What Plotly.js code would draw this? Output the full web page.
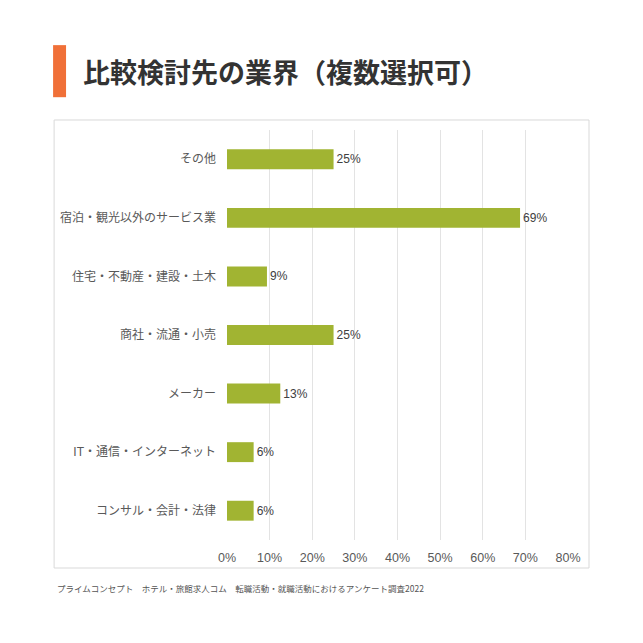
<!DOCTYPE html>
<html><head><meta charset="utf-8">
<script src="https://cdn.plot.ly/plotly-3.0.1.min.js"></script>
<style>html,body{margin:0;padding:0;background:#fff;}#chart{width:643px;height:643px;}</style>
</head><body><div id="chart"></div>
<script>
const categories = ["その他","宿泊・観光以外のサービス業","住宅・不動産・建設・土木","商社・流通・小売","メーカー","IT・通信・インターネット","コンサル・会計・法律"];
const values = [25, 68.75, 9.375, 25, 12.5, 6.25, 6.25];
const labels = ["25%","69%","9%","25%","13%","6%","6%"];
const xTickVals = [0,10,20,30,40,50,60,70,80];
const xTickText = ["0%","10%","20%","30%","40%","50%","60%","70%","80%"];
const chartTitle = "比較検討先の業界（複数選択可）";
const sourceText = "プライムコンセプト　ホテル・旅館求人コム　転職活動・就職活動におけるアンケート調査2022";

const font = '"Liberation Sans", "Noto Sans CJK JP", sans-serif';
const titleFont = '"Noto Sans CJK JP", "Noto Sans", sans-serif';
const trace = {
  type: 'bar', orientation: 'h', x: values, y: categories,
  text: labels, textposition: 'outside', cliponaxis: false,
  textfont: {family: font, size: 12, color: '#404040'},
  marker: {color: '#A1B432'}, width: 0.34, hoverinfo: 'skip'
};
const layout = {
  width: 643, height: 643,
  margin: {l: 227, r: 75, t: 130, b: 103},
  paper_bgcolor: '#fff', plot_bgcolor: 'rgba(0,0,0,0)',
  showlegend: false,
  font: {family: font, color: '#595959', size: 12},
  xaxis: {range: [0, 80], tickvals: xTickVals, ticktext: xTickText, showgrid: true,
          gridcolor: '#e3e3e3', gridwidth: 1, zeroline: false, showline: false,
          ticks: '', ticklabelstandoff: 8, tickfont: {family: font, size: 12.5, color: '#595959'}, fixedrange: true},
  yaxis: {categoryorder: 'array', categoryarray: categories, autorange: 'reversed',
          showgrid: false, zeroline: false, showline: false, ticks: '',
          ticklabelstandoff: 10, tickfont: {family: font, size: 12, color: '#595959'}, fixedrange: true},
  shapes: [
    {type: 'rect', xref: 'paper', yref: 'paper', x0: -0.507, x1: 1.0616, y0: -0.0683, y1: 1.0244,
     line: {color: '#d9d9d9', width: 1}, fillcolor: 'rgba(0,0,0,0)', layer: 'below'},
    {type: 'rect', xref: 'paper', yref: 'paper', x0: -0.510, x1: -0.472, y0: 1.080, y1: 1.207,
     line: {width: 0}, fillcolor: '#F07038'}
  ],
  annotations: [
    {text: '<b>' + chartTitle + '</b>', xref: 'paper', yref: 'paper', x: -0.427, y: 1.1415,
     xanchor: 'left', yanchor: 'middle', showarrow: false,
     font: {family: titleFont, size: 27, color: '#333333'}},
    {text: sourceText, xref: 'paper', yref: 'paper', x: -0.503, y: -0.117,
     xanchor: 'left', yanchor: 'middle', showarrow: false,
     font: {family: titleFont, size: 8.5, color: '#555555'}}
  ]
};
Plotly.newPlot('chart', [trace], layout, {displayModeBar: false, staticPlot: true});
</script></body></html>
